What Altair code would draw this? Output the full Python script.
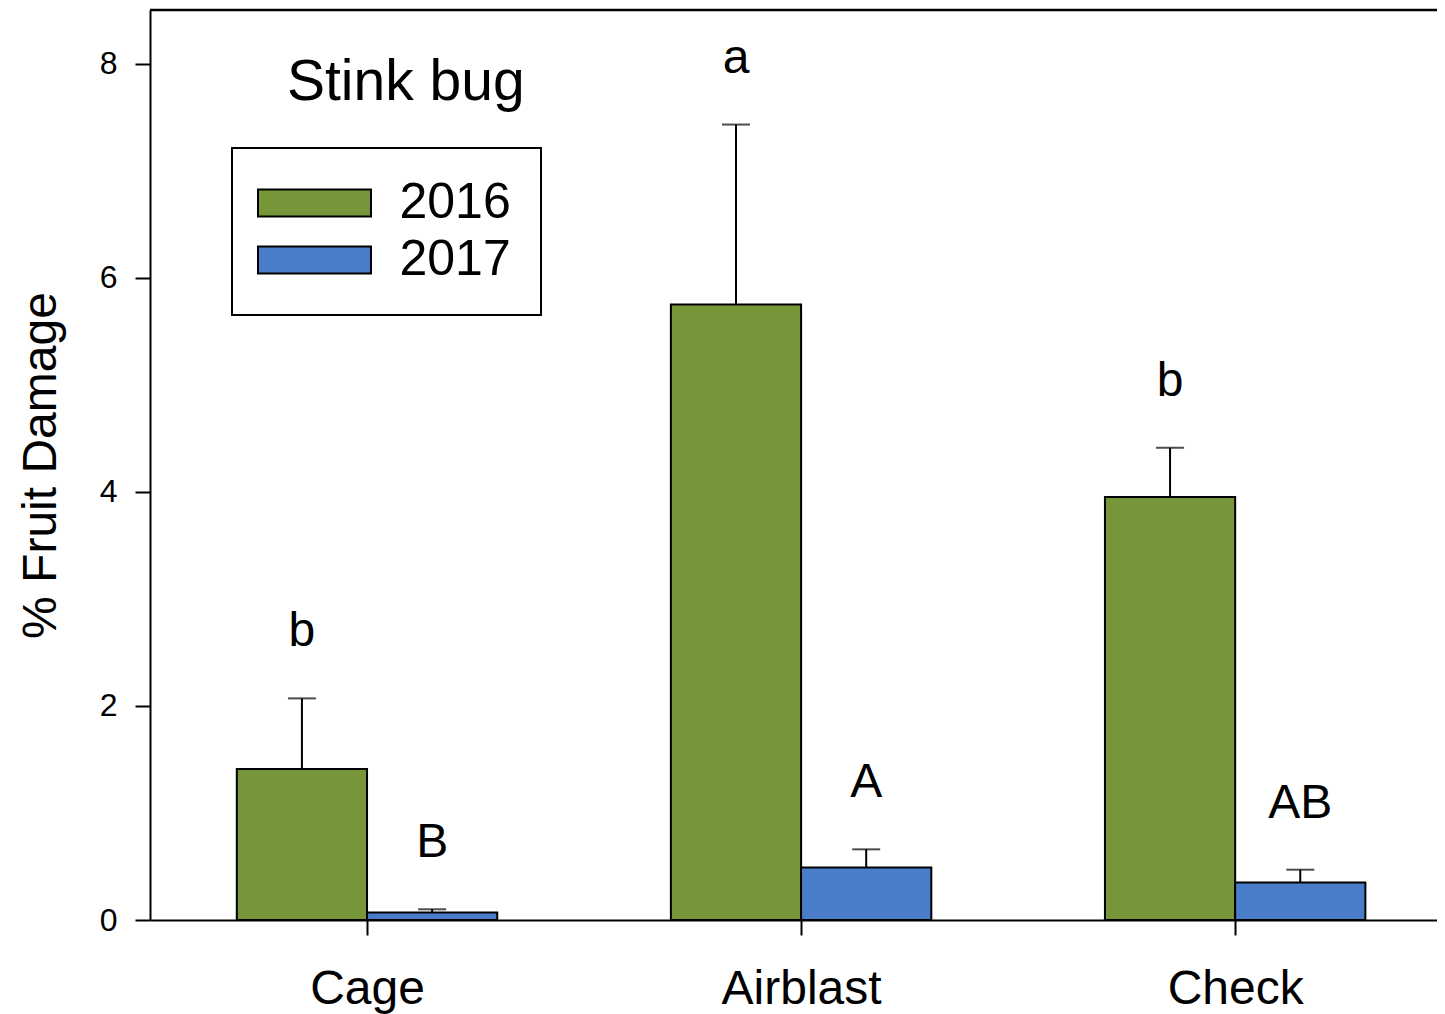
import json
import altair as alt
import pandas as pd

# ---- data ----
categories = ["Cage", "Airblast", "Check"]
years = ["2016", "2017"]
mean_2016 = [1.41, 5.75, 3.95]
se_2016 = [0.66, 1.68, 0.46]
mean_2017 = [0.07, 0.49, 0.35]
se_2017 = [0.03, 0.17, 0.12]
letters_2016 = ["b", "a", "b"]
letters_2017 = ["B", "A", "AB"]
y_ticks = [0, 2, 4, 6, 8]
panel_label = "Stink bug"
y_title = "% Fruit Damage"

# ---- styles ----
colors = ["#77963A", "#4A7DC9"]
FONT = "Liberation Sans"
BAR_W = 0.3
W, H = 1287, 910

rows = []
series = [("2016", mean_2016, se_2016, letters_2016, -1),
          ("2017", mean_2017, se_2017, letters_2017, 0)]
for i, c in enumerate(categories):
    for yr, means, ses, lets, side in series:
        x0 = i + side * BAR_W
        rows.append(dict(cat=c, year=yr, mean=means[i], upper=means[i] + ses[i],
                         x0=x0, x1=x0 + BAR_W, xc=x0 + BAR_W / 2, letter=lets[i]))
df = pd.DataFrame(rows)

label_expr = json.dumps(categories) + "[datum.value]"
x_scale = alt.Scale(domain=[-0.5, 2.465], nice=False, zero=False, padding=0)
y_scale = alt.Scale(domain=[0, 8.5], nice=False, padding=0)
x_axis = alt.Axis(values=[0, 1, 2], labelExpr=label_expr, title=None, grid=False,
                  tickSize=15, labelFontSize=48, labelPadding=30)
y_axis = alt.Axis(values=y_ticks, title=y_title, grid=False, tickSize=15,
                  labelFontSize=32, labelPadding=18, titleFontSize=48,
                  titleFontWeight="normal", titlePadding=34)

base = alt.Chart(df)

bars = base.mark_rect(stroke="black", strokeWidth=2, opacity=1).encode(
    x=alt.X("x0:Q", scale=x_scale, axis=x_axis),
    x2="x1:Q",
    y=alt.Y("mean:Q", scale=y_scale, axis=y_axis),
    y2=alt.datum(0),
    fill=alt.Fill("year:N", scale=alt.Scale(domain=years, range=colors),
                  legend=alt.Legend(title=None, orient="none", legendX=82, legendY=138,
                                    direction="vertical", strokeColor="black",
                                    padding=30, labelFontSize=50, labelOffset=60,
                                    rowPadding=7, symbolOffset=27.5,
                                    symbolType="M-4,-0.96H4V0.96H-4Z",
                                    symbolSize=798, symbolStrokeColor="black",
                                    symbolStrokeWidth=2, symbolOpacity=1)),
)

err = base.mark_rule(color="black", strokeWidth=2).encode(
    x=alt.X("xc:Q", scale=x_scale, axis=x_axis),
    y=alt.Y("mean:Q", scale=y_scale, axis=y_axis),
    y2="upper:Q",
)

caps = base.mark_tick(color="black", orient="horizontal", size=28, thickness=2).encode(
    x=alt.X("xc:Q", scale=x_scale, axis=x_axis),
    y=alt.Y("upper:Q", scale=y_scale, axis=y_axis),
)

letters = base.mark_text(fontSize=48, font=FONT, color="black", baseline="alphabetic",
                         align="center", dy=-52).encode(
    x=alt.X("xc:Q", scale=x_scale, axis=x_axis),
    y=alt.Y("upper:Q", scale=y_scale, axis=y_axis),
    text="letter:N",
)

one = pd.DataFrame({"t": [panel_label]})
title_text = alt.Chart(one).mark_text(fontSize=57, font=FONT, color="black",
                                      align="left", baseline="alphabetic").encode(
    x=alt.value(137), y=alt.value(90), text="t:N")

top_rule = alt.Chart(one).mark_rule(color="black", strokeWidth=2.5).encode(
    x=alt.value(0), x2=alt.value(W), y=alt.value(0))

chart = alt.layer(bars, err, caps, letters, title_text, top_rule).properties(
    width=W, height=H,
    autosize=alt.AutoSizeParams(type="none"),
    padding={"left": 142, "top": 2, "right": 0, "bottom": 96},
).configure(font=FONT).configure_view(stroke=None).configure_axis(
    domainColor="black", domainWidth=2, tickColor="black", tickWidth=2,
    labelColor="black", titleColor="black", labelFont=FONT, titleFont=FONT,
).configure_legend(labelFont=FONT, labelColor="black", strokeWidth=2)

chart.save("out.html", embed_options={"renderer": "svg", "actions": False})
